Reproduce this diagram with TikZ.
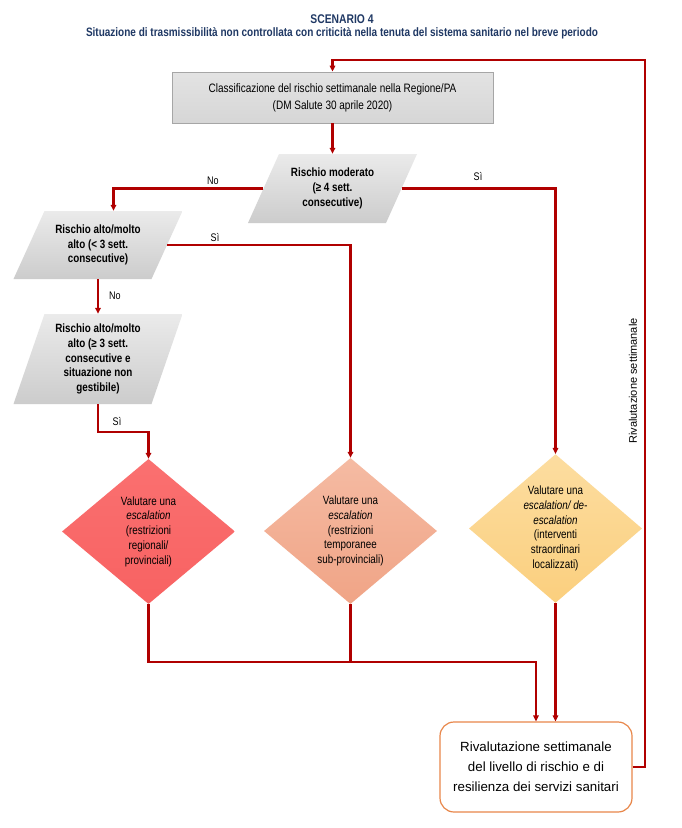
\documentclass[tikz,border=0pt]{standalone}
\usepackage{fontspec}
\setmainfont{Liberation Sans}
\newfontfamily\nar[FakeStretch=0.82]{Liberation Sans}
\usetikzlibrary{shapes.geometric,arrows.meta,calc}
\definecolor{lnred}{HTML}{B00000}
\definecolor{ttlblue}{HTML}{1F3864}
\definecolor{boxborder}{HTML}{A6A6A6}
\definecolor{finborder}{HTML}{E8874A}
\definecolor{dAt}{HTML}{FA7070}
\definecolor{dAb}{HTML}{F86262}
\definecolor{dBt}{HTML}{F5BBA3}
\definecolor{dBb}{HTML}{F0A486}
\definecolor{dCt}{HTML}{FCDDA0}
\definecolor{dCb}{HTML}{FBCF7E}
\begin{document}
\begin{tikzpicture}[x=1pt,y=-1pt,
  line/.style={draw=lnred,line width=2.2pt},
  arr/.style={line,-{Triangle[length=6pt,width=5.5pt]}},
  lbl/.style={font=\nar\fontsize{11}{13}\selectfont,text=black,inner sep=0pt},
  classbox/.style={rectangle,draw=boxborder,line width=0.8pt,top color=gray!22,bottom color=gray!32,
    minimum width=321pt,minimum height=51pt,align=center,inner sep=0pt,
    font=\nar\fontsize{12.2}{17}\selectfont},
  para/.style={rectangle,draw=none,minimum width=169pt,align=center,inner sep=0pt,
    font=\nar\bfseries\fontsize{12}{14.7}\selectfont,
    path picture={\shade[top color=gray!16,bottom color=gray!40]
      ([xshift=31pt]path picture bounding box.north west) -- (path picture bounding box.north east)
      -- ([xshift=-31pt]path picture bounding box.south east) -- (path picture bounding box.south west) -- cycle;}},
  dia/.style={diamond,draw=none,inner sep=0pt,align=center,minimum width=173pt,
    font=\nar\fontsize{12}{14.7}\selectfont},
  finbox/.style={rectangle,rounded corners=14pt,draw=finborder,line width=1.2pt,fill=white,
    minimum width=192pt,minimum height=90pt,align=center,inner sep=0pt,
    font=\fontsize{13.3}{20}\selectfont}
]
\useasboundingbox[fill=white] (0,0) rectangle (681,828);

\node[font=\nar\bfseries\fontsize{12.6}{14}\selectfont,text=ttlblue] (t1) at (342,19) {SCENARIO 4};
\node[font=\nar\bfseries\fontsize{12.2}{13}\selectfont,text=ttlblue] (t2) at (342,33)
  {Situazione di trasmissibilità non controllata con criticità nella tenuta del sistema sanitario nel breve periodo};

\node[classbox] (box0) at (332.5,97.5) {Classificazione del rischio settimanale nella Regione/PA\\(DM Salute 30 aprile 2020)};

\node[para,minimum height=69pt] (p1) at (332.5,188.5) {Rischio moderato\\(≥ 4 sett.\\consecutive)};
\node[para,minimum height=68pt] (p2) at (98,245) {Rischio alto/molto\\alto (< 3 sett.\\consecutive)};
\node[para,minimum height=90pt] (p3) at (98,359) {Rischio alto/molto\\alto (≥ 3 sett.\\consecutive e\\situazione non\\gestibile)};

\node[dia,minimum height=145pt,top color=dAt,bottom color=dAb] (d1) at (148.5,531.5)
  {Valutare una\\\textit{escalation}\\(restrizioni\\regionali/\\provinciali)};
\node[dia,minimum height=146pt,top color=dBt,bottom color=dBb] (d2) at (350.5,531)
  {Valutare una\\\textit{escalation}\\(restrizioni\\temporanee\\sub-provinciali)};
\node[dia,minimum height=147pt,top color=dCt,bottom color=dCb] (d3) at (555.5,528.5)
  {Valutare una\\\textit{escalation/ de-}\\\textit{escalation}\\(interventi\\straordinari\\localizzati)};

\node[finbox] (fin) at (536,767) {Rivalutazione settimanale\\del livello di rischio e di\\resilienza dei servizi sanitari};

% parallelogram side midpoints
\coordinate (p1l) at ($(p1.west)+(15.5,0)$);
\coordinate (p1r) at ($(p1.east)+(-15.5,0)$);
\coordinate (p2t) at ($(p2.north)+(15.5,0)$);
\coordinate (p2r) at ($(p2.east)+(-15.5,0)$);

% connectors
\draw[arr] (box0.south) -- (p1.north);
\draw[arr] (p1l) -| (p2t);
\draw[arr] (p1r) -| (d3.north);
\draw[arr] (p2r) -| (d2.north);
\draw[arr] (p2.south) -- (p3.north);
\coordinate (s3) at ($(p3.south)+(0,28)$);
\draw[arr] (p3.south) -- (s3) -| (d1.north);
\coordinate (j) at ($(d2.south)+(0,58)$);
\draw[arr] (d1.south) |- (j) -| (fin.north);
\draw[line] (d2.south) -- (j);
\draw[arr] (d3.south) -- (d3.south |- fin.north);
\coordinate (lt) at (645,60);
\draw[arr] (fin.east) -| (lt) -| (box0.north);

% labels
\node[lbl] (lno1) at (213,181) {No};
\node[lbl] (lsi1) at (478,176) {Sì};
\node[lbl] (lsi2) at (215,237) {Sì};
\node[lbl] (lno2) at (115,296) {No};
\node[lbl] (lsi3) at (117,421) {Sì};
\node[font=\fontsize{11}{13}\selectfont,rotate=90,inner sep=0pt] (rot) at (633,381) {Rivalutazione settimanale};
\end{tikzpicture}
\end{document}
